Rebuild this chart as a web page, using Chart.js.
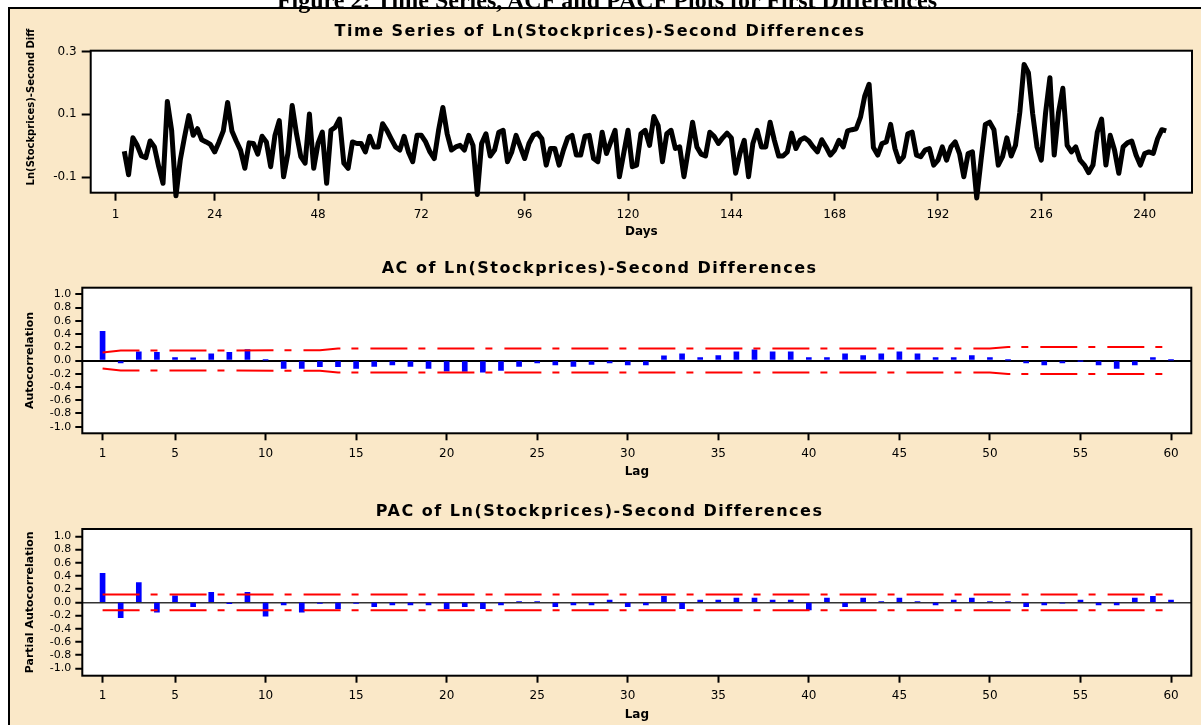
<!DOCTYPE html>
<html>
<head>
<meta charset="utf-8">
<title>Time Series, ACF and PACF</title>
<script src="https://cdn.jsdelivr.net/npm/chart.js@4.4.0/dist/chart.umd.min.js"></script>
<style>
    html, body { margin: 0; padding: 0; background: #fff; width: 1201px; height: 725px; overflow: hidden; position: relative; }
    #figTitle { position: absolute; left: 0; top: -12px; width: 1214px; text-align: center; font: bold 24px "Liberation Serif", serif; line-height: 24px; white-space: nowrap; z-index: 2; }
    #panel { position: absolute; left: 8px; top: 7px; width: 1200px; height: 730px; background: #FAE8C8; border-left: 2px solid #000; border-top: 2px solid #000; box-sizing: border-box; }
    canvas { position: absolute; left: 8px; }
    #tsChart { top: 9px; }
    #acfChart { top: 240px; }
    #pacfChart { top: 480px; }
    #tsYTitle { position: absolute; left: -68px; top: 100px; width: 200px; height: 14px; line-height: 14px; text-align: center; font: bold 10px "DejaVu Sans", sans-serif; transform: rotate(-90deg); z-index: 3; white-space: nowrap; }
</style>
</head>
<body>
<div id="figTitle">Figure 2: Time Series, ACF and PACF Plots for First Differences</div>
<div id="panel"></div>
<canvas id="tsChart" width="1200" height="231"></canvas>
<canvas id="acfChart" width="1200" height="240"></canvas>
<canvas id="pacfChart" width="1200" height="245"></canvas>
<div id="tsYTitle">Ln(Stockprices)-Second Diff</div>
<script>
// second differences of ln(price), first value sits on day 3
var firstDay = 3;
var lnDiff2 = [
    -0.018, -0.093, 0.025, 0.001, -0.033, -0.038, 0.015, -0.004, -0.067, -0.12,
    0.141, 0.049, -0.16, -0.046, 0.028, 0.096, 0.033, 0.054, 0.019, 0.012,
    0.004, -0.02, 0.012, 0.047, 0.138, 0.047, 0.015, -0.014, -0.072, 0.009,
    0.007, -0.027, 0.03, 0.012, -0.067, 0.033, 0.08, -0.099, -0.025, 0.128,
    0.038, -0.035, -0.056, 0.101, -0.072, 0.007, 0.043, -0.12, 0.049, 0.059,
    0.085, -0.056, -0.072, 0.012, 0.007, 0.007, -0.02, 0.03, -0.004, -0.004,
    0.07, 0.049, 0.022, -0.004, -0.014, 0.03, -0.02, -0.051, 0.033, 0.033,
    0.012, -0.02, -0.041, 0.049, 0.122, 0.038, -0.014, -0.004, 0.001, -0.014,
    0.033, 0.001, -0.156, 0.007, 0.038, -0.033, -0.014, 0.043, 0.049, -0.051,
    -0.02, 0.033, -0.004, -0.041, 0.007, 0.033, 0.04, 0.022, -0.062, -0.009,
    -0.009, -0.062, -0.014, 0.025, 0.033, -0.03, -0.03, 0.03, 0.033, -0.041,
    -0.051, 0.043, -0.025, 0.012, 0.049, -0.099, -0.025, 0.049, -0.067, -0.062,
    0.038, 0.049, 0.001, 0.093, 0.064, -0.051, 0.038, 0.049, -0.009, -0.004,
    -0.099, -0.014, 0.075, -0.004, -0.027, -0.033, 0.043, 0.03, 0.007, 0.025,
    0.04, 0.025, -0.088, -0.025, 0.017, -0.099, 0.007, 0.049, -0.004, -0.004,
    0.075, 0.017, -0.033, -0.033, -0.02, 0.04, -0.009, 0.018, 0.025, 0.015,
    -0.004, -0.02, 0.019, -0.004, -0.03, -0.014, 0.017, -0.004, 0.047, 0.051,
    0.054, 0.091, 0.159, 0.196, -0.006, -0.03, 0.007, 0.012, 0.068, -0.009,
    -0.051, -0.035, 0.038, 0.043, -0.03, -0.035, -0.014, -0.009, -0.062, -0.046,
    -0.004, -0.046, -0.004, 0.012, -0.025, -0.099, -0.025, -0.02, -0.167, -0.046,
    0.068, 0.075, 0.051, -0.062, -0.035, 0.025, -0.033, 0.001, 0.106, 0.259,
    0.233, 0.101, -0.004, -0.046, 0.106, 0.217, -0.03, 0.106, 0.183, 0.001,
    -0.02, -0.004, -0.046, -0.062, -0.086, -0.062, 0.043, 0.085, -0.062, 0.033,
    -0.014, -0.088, -0.004, 0.009, 0.015, -0.03, -0.062, -0.025, -0.02, -0.025,
    0.022, 0.051, 0.047
];
var dayTicks = [1, 24, 48, 72, 96, 120, 144, 168, 192, 216, 240];
var tsYTicks = [-0.1, 0.1, 0.3];

var acfValues = [
    0.44, -0.035, 0.13, 0.125, 0.045, 0.04, 0.10, 0.125, 0.165, 0.005,
    -0.12, -0.12, -0.095, -0.095, -0.12, -0.09, -0.065, -0.09, -0.12, -0.16,
    -0.165, -0.175, -0.15, -0.09, -0.035, -0.065, -0.09, -0.06, -0.035, -0.065,
    -0.065, 0.07, 0.10, 0.045, 0.075, 0.13, 0.16, 0.13, 0.13, 0.045,
    0.045, 0.10, 0.075, 0.10, 0.13, 0.10, 0.045, 0.045, 0.075, 0.045,
    0.005, -0.035, -0.065, -0.035, -0.005, -0.065, -0.12, -0.065, 0.045, 0.005
];
var pacfValues = [
    0.44, -0.23, 0.30, -0.15, 0.10, -0.065, 0.15, -0.02, 0.15, -0.21,
    -0.04, -0.15, -0.015, -0.095, -0.015, -0.065, -0.04, -0.04, -0.04, -0.095,
    -0.065, -0.095, -0.04, 0.01, 0.01, -0.065, -0.04, -0.04, 0.035, -0.065,
    -0.04, 0.09, -0.095, 0.035, 0.035, 0.065, 0.065, 0.035, 0.035, -0.115,
    0.065, -0.065, 0.065, 0.01, 0.065, 0.01, -0.04, 0.035, 0.065, 0.01,
    0.01, -0.065, -0.04, -0.01, 0.035, -0.04, -0.04, 0.065, 0.09, 0.035
];
// significance limits, given at the lags where they change
var acfLimitLags = [1, 2, 13, 14, 50, 51, 60];
var acfUpper = [0.12, 0.15, 0.155, 0.18, 0.18, 0.205, 0.205];
var acfLower = [-0.12, -0.15, -0.155, -0.18, -0.18, -0.205, -0.205];
var pacfLimitLags = [1, 60];
var pacfUpper = [0.12, 0.12];
var pacfLower = [-0.12, -0.12];

var lagTicks = [1, 5, 10, 15, 20, 25, 30, 35, 40, 45, 50, 55, 60];
var corrTicks = [-1.0, -0.8, -0.6, -0.4, -0.2, 0.0, 0.2, 0.4, 0.6, 0.8, 1.0];

Chart.defaults.font.family = '"DejaVu Sans", sans-serif';
Chart.defaults.color = '#000';

// white plot area + black frame, like the minitab panels
var framePlugin = {
    id: 'frame',
    beforeDraw: function(chart) {
        var a = chart.chartArea, c = chart.ctx;
        c.save();
        c.fillStyle = '#fff';
        c.fillRect(a.left, a.top, a.right - a.left, a.bottom - a.top);
        c.restore();
    },
    beforeDatasetsDraw: function(chart) {
        var a = chart.chartArea, c = chart.ctx;
        c.save();
        c.strokeStyle = '#000';
        c.lineWidth = 2;
        c.strokeRect(a.left, a.top, a.right - a.left, a.bottom - a.top);
        c.restore();
    }
};

function points(xs, ys) {
    var out = [];
    for (var i = 0; i < ys.length; i++) {
        out.push({x: xs[i], y: ys[i]});
    }
    return out;
}

function seq(from, n) {
    var out = [];
    for (var i = 0; i < n; i++) out.push(from + i);
    return out;
}

function fixedTicks(list) {
    return function(scale) {
        scale.ticks = list.map(function(v) { return {value: v}; });
    };
}

function titleOpts(text, top, bottom) {
    return {
        display: true,
        text: text,
        color: '#000',
        font: {size: 16, weight: 'bold'},
        padding: {top: top, bottom: bottom}
    };
}

// minitab titles are drawn a bit spaced out
function spaceTitle(chart, px) {
    var tb = chart.titleBlock;
    var orig = tb.draw;
    tb.draw = function() {
        var c = this.ctx;
        c.save();
        c.letterSpacing = px + 'px';
        orig.apply(this, arguments);
        c.restore();
    };
    chart.draw();
}

// ---- time series ----
var tsChart = new Chart(document.getElementById('tsChart'), {
    type: 'line',
    data: {
        datasets: [{
            data: points(seq(firstDay, lnDiff2.length), lnDiff2),
            borderColor: '#000',
            borderWidth: 5,
            borderJoinStyle: 'round',
            pointRadius: 0,
            tension: 0,
            clip: false
        }]
    },
    options: {
        responsive: false,
        animation: false,
        events: [],
        layout: {padding: {left: 0, right: 16, top: 0, bottom: 0}},
        plugins: {
            legend: {display: false},
            tooltip: {enabled: false},
            title: titleOpts('Time Series of Ln(Stockprices)-Second Differences', 13.1, 9.4)
        },
        scales: {
            x: {
                type: 'linear',
                min: -4.8,
                max: 251,
                afterBuildTicks: fixedTicks(dayTicks),
                afterFit: function(s) { s.height = 47.3; },
                ticks: {autoSkip: false, maxRotation: 0, padding: 7, font: {size: 12},
                    callback: function(v) { return String(v); }},
                grid: {drawOnChartArea: false, tickLength: 8, tickWidth: 2, tickColor: '#000'},
                border: {display: false},
                title: {display: true, text: 'Days', font: {size: 12, weight: 'bold'}, padding: {top: 0, bottom: 1.1}}
            },
            y: {
                type: 'linear',
                min: -0.15,
                max: 0.303,
                afterBuildTicks: fixedTicks(tsYTicks),
                afterFit: function(s) { s.width = 82.7; },
                ticks: {autoSkip: false, padding: 5, font: {size: 12},
                    callback: function(v) { return v.toFixed(1); }},
                grid: {drawOnChartArea: false, tickLength: 9, tickWidth: 2, tickColor: '#000'},
                border: {display: false}
            }
        }
    },
    plugins: [framePlugin]
});
spaceTitle(tsChart, 1.5);

// ---- AC / PAC panels ----
function corrChart(id, heading, yTitle, values, limLags, upper, lower, geo) {
    var lags = seq(1, values.length);
    var chart = new Chart(document.getElementById(id), {
        type: 'bar',
        data: {
            datasets: [
                {
                    type: 'bar',
                    data: points(lags, values),
                    backgroundColor: '#0000FF',
                    barThickness: 5,
                    order: 2
                },
                {
                    type: 'line',
                    data: points(limLags, upper),
                    borderColor: '#FF0000',
                    borderWidth: 2,
                    borderDash: [37, 11, 7, 12],
                    pointRadius: 0,
                    tension: 0,
                    fill: false,
                    order: 1
                },
                {
                    type: 'line',
                    data: points(limLags, lower),
                    borderColor: '#FF0000',
                    borderWidth: 2,
                    borderDash: [37, 11, 7, 12],
                    pointRadius: 0,
                    tension: 0,
                    fill: false,
                    order: 1
                }
            ]
        },
        options: {
            responsive: false,
            animation: false,
            events: [],
            layout: {padding: {left: 0, right: 16.7, top: 0, bottom: 0}},
            plugins: {
                legend: {display: false},
                tooltip: {enabled: false},
                title: titleOpts(heading, geo.titleTop, geo.titleBottom)
            },
            scales: {
                x: {
                    type: 'linear',
                    offset: false,
                    min: -0.12,
                    max: 61.12,
                    afterBuildTicks: fixedTicks(lagTicks),
                    afterFit: function(s) { s.height = geo.xHeight; },
                    ticks: {autoSkip: false, maxRotation: 0, padding: 6, font: {size: 12},
                        callback: function(v) { return String(v); }},
                    grid: {offset: false, drawOnChartArea: false, tickLength: 7, tickWidth: 2, tickColor: '#000'},
                    border: {display: false},
                    title: {display: true, text: 'Lag', font: {size: 12, weight: 'bold'}, padding: {top: 0, bottom: geo.lagPad}}
                },
                y: {
                    type: 'linear',
                    min: geo.yMin,
                    max: geo.yMax,
                    afterBuildTicks: fixedTicks(corrTicks),
                    afterFit: function(s) { s.width = 74.3; },
                    ticks: {autoSkip: false, padding: 4, font: {size: 11},
                        callback: function(v) { return v.toFixed(1); }},
                    grid: {
                        drawOnChartArea: true,
                        color: function(ctx) { return ctx.tick && ctx.tick.value === 0 ? geo.zeroColor : 'rgba(0,0,0,0)'; },
                        lineWidth: geo.zeroWidth,
                        tickLength: 7,
                        tickWidth: 2,
                        tickColor: '#000'
                    },
                    border: {display: false},
                    title: {display: true, text: yTitle, font: {size: 11, weight: 'bold'}, padding: {top: 16, bottom: 0}}
                }
            }
        },
        plugins: [framePlugin]
    });
    spaceTitle(chart, 1.5);
    return chart;
}

corrChart('acfChart', 'AC of Ln(Stockprices)-Second Differences', 'Autocorrelation',
    acfValues, acfLimitLags, acfUpper, acfLower,
    {titleTop: 19.7, titleBottom: 8.8, xHeight: 46.7, lagPad: 0.5, yMin: -1.1, yMax: 1.1, zeroColor: '#000', zeroWidth: 2});

corrChart('pacfChart', 'PAC of Ln(Stockprices)-Second Differences', 'Partial Autocorrelation',
    pacfValues, pacfLimitLags, pacfUpper, pacfLower,
    {titleTop: 22.1, titleBottom: 7.7, xHeight: 49.3, lagPad: 2.8, yMin: -1.11, yMax: 1.11, zeroColor: '#333', zeroWidth: 1.5});
</script>
</body>
</html>
